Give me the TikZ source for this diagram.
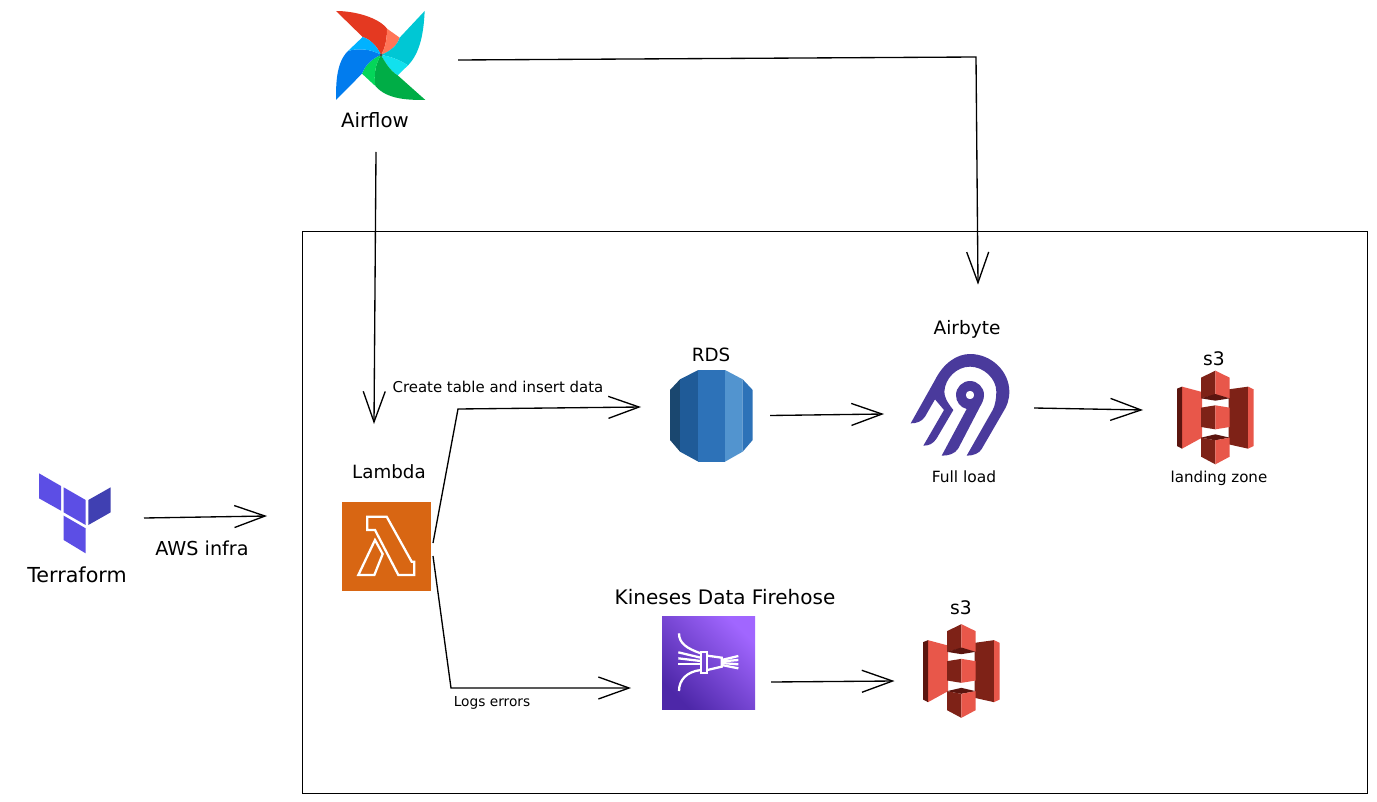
\documentclass[tikz,border=0pt]{standalone}
\usepackage{fontspec}
\setmainfont{DejaVu Sans}
\usetikzlibrary{arrows.meta}
\definecolor{sthree}{HTML}{E8574A}
\definecolor{sthreed}{HTML}{7E2217}
\definecolor{sthreex}{HTML}{5B150F}
\definecolor{lambdaorange}{HTML}{D86613}
\definecolor{fireA}{HTML}{4D27A8}
\definecolor{fireC}{HTML}{A166FF}
\definecolor{tfp}{HTML}{5C4EE5}
\definecolor{tfd}{HTML}{4040B2}
\definecolor{abyte}{HTML}{4A3A9C}
\definecolor{afred}{HTML}{E43921}
\definecolor{aforange}{HTML}{FF7557}
\definecolor{afteal}{HTML}{00C7D4}
\definecolor{afcyan}{HTML}{11E1EE}
\definecolor{afgreen}{HTML}{00AD46}
\definecolor{aflime}{HTML}{04D659}
\definecolor{afblue}{HTML}{017CEE}
\definecolor{afsky}{HTML}{00B2FF}
\definecolor{afdot}{HTML}{4A4A4A}
\definecolor{rdsa}{HTML}{1A476F}
\definecolor{rdsb}{HTML}{1F5B98}
\definecolor{rdsc}{HTML}{2D72B8}
\definecolor{rdsd}{HTML}{5294CF}
\newcommand{\drawsthree}{%
    \fill[sthree] (30,62)--(90,78)--(90,215)--(30,248)--cycle;
    \fill[sthreex] (15,68)--(30,62)--(30,248)--(15,240)--cycle;
    \fill[sthreed] (170,70)--(228,62)--(228,248)--(170,235)--cycle;
    \fill[sthree] (228,62)--(245,70)--(245,240)--(228,248)--cycle;
    \fill[sthreed] (87,35)--(130,14)--(130,86)--(87,97)--cycle;
    \fill[sthree] (130,14)--(173,35)--(173,97)--(130,86)--cycle;
    \fill[sthreex] (87,97)--(130,84)--(173,97)--(130,104)--cycle;
    \fill[sthreed] (87,125)--(130,118)--(130,190)--(87,183)--cycle;
    \fill[sthree] (130,118)--(173,125)--(173,183)--(130,190)--cycle;
    \fill[sthreex] (87,215)--(130,205)--(173,215)--(130,223)--cycle;
    \fill[sthreed] (87,215)--(130,223)--(130,295)--(87,272)--cycle;
    \fill[sthree] (130,223)--(173,215)--(173,272)--(130,295)--cycle;
}
\tikzset{
  conn/.style={draw=black,line width=1pt,-{Straight Barb[length=23pt,width=16.5pt,line width=1pt]}},
  ghost/.style={inner sep=0pt,outer sep=0pt,draw=none},
  iconz/.style={x=0.25pt,y=-0.25pt},
  labelbase/.style={inner sep=0pt},
  whiteline/.style={draw=white,line width=1.7pt,line join=miter}
}
\newcommand{\fsz}[1]{\fontsize{#1pt}{#1pt}\selectfont}
\begin{document}
\begin{tikzpicture}[x=0.75pt,y=-0.75pt]
\useasboundingbox (0,0) rectangle (1377,802);
\fill[white] (0,0) rectangle (1377,802);
% container
\node[draw=black,line width=0.75pt,inner sep=0pt,outer sep=0pt,minimum width=798.75pt,minimum height=420.75pt] (awsbox) at (834.5,512.5) {};

% anchor regions
\node[ghost,minimum width=126pt,minimum height=106.5pt] (airflow) at (374,81) {};
\node[ghost,minimum width=62.25pt,minimum height=69pt] (rds) at (711.5,415.5) {};
\node[ghost,minimum width=75pt,minimum height=77pt] (airbyte) at (960,404.5) {};
\node[ghost,minimum width=57.75pt,minimum height=70pt] (sthreetop) at (1215.5,416.5) {};
\node[ghost,minimum width=58.5pt,minimum height=70pt] (sthreebot) at (961.5,670) {};
\node[ghost,minimum width=54pt,minimum height=60pt] (terraform) at (75,513) {};
\coordinate (infra) at (267,516);

% Lambda
\node[fill=lambdaorange,inner sep=0pt,outer sep=0pt,minimum size=66.75pt] (lambda) at (386.5,546.5) {};
\begin{scope}[shift={(330,450)},iconz]
  \draw[whiteline] (112,200)--(170,200)--(245,335)--(253,335)--(253,375)--(205,375)--(135,240)--(112,240)--cycle;
  \draw[whiteline] (135,270)--(158,312)--(133,375)--(85,375)--cycle;
\end{scope}
% Firehose
\node[shade,shading=axis,left color=fireA,right color=fireC,shading angle=135,inner sep=0pt,outer sep=0pt,minimum size=69.75pt] (firehose) at (708.5,662.5) {};
\begin{scope}[shift={(650,605)},iconz]
  \draw[whiteline] (87,85) .. controls (87,115) and (110,130) .. (152,145);
  \draw[whiteline] (85,142)--(152,158);
  \draw[whiteline] (85,160)--(152,168);
  \draw[whiteline] (85,178)--(152,178);
  \draw[whiteline] (87,258) .. controls (87,225) and (110,200) .. (152,195);
  \draw[whiteline] (152,140) rectangle (172,205);
  \draw[whiteline] (172,152)--(215,158)--(215,185)--(172,195);
  \draw[whiteline] (215,165)--(265,153);
  \draw[whiteline] (215,169)--(265,165);
  \draw[whiteline] (215,174)--(265,178);
  \draw[whiteline] (215,180)--(265,190);
\end{scope}

% Airflow logo
\begin{scope}[shift={(332,6)},iconz]
  \fill[afred] (12,15) .. controls (70,15) and (140,35) .. (165,68) .. controls (165,100) and (160,125) .. (147,147) .. controls (135,120) and (115,100) .. (92,93) -- cycle;
  \fill[aforange] (165,68) -- (203,95) .. controls (195,120) and (175,135) .. (147,147) .. controls (160,125) and (165,100) .. (165,68) -- cycle;
  \fill[afteal] (278,15) .. controls (275,80) and (265,140) .. (228,178) .. controls (200,160) and (170,150) .. (147,147) .. controls (175,135) and (195,120) .. (203,95) -- cycle;
  \fill[afcyan] (147,147) .. controls (170,150) and (200,160) .. (228,178) -- (197,208) .. controls (175,195) and (160,170) .. (147,147) -- cycle;
  \fill[afgreen] (147,147) .. controls (160,170) and (175,195) .. (197,208) -- (280,282) .. controls (225,282) and (165,280) .. (130,240) .. controls (125,205) and (130,175) .. (147,147) -- cycle;
  \fill[aflime] (147,147) .. controls (130,175) and (125,205) .. (130,240) -- (90,203) .. controls (100,175) and (125,155) .. (147,147) -- cycle;
  \fill[afblue] (147,147) .. controls (125,155) and (100,175) .. (90,203) -- (12,282) .. controls (12,235) and (12,170) .. (48,135) .. controls (80,125) and (120,130) .. (147,147) -- cycle;
  \fill[afsky] (92,93) .. controls (115,100) and (135,120) .. (147,147) .. controls (120,130) and (80,125) .. (48,135) -- cycle;
  \fill[afdot] (147,147) circle [radius=5];
\end{scope}

% RDS logo
\begin{scope}[shift={(650,340)},iconz]
  \fill[rdsa] (90,118)--(60,150)--(60,300)--(90,335)--cycle;
  \fill[rdsb] (90,118)--(145,90)--(145,365)--(90,335)--cycle;
  \fill[rdsc] (145,90)--(225,90)--(225,365)--(145,365)--cycle;
  \fill[rdsd] (225,90)--(278,118)--(278,335)--(225,365)--cycle;
  \fill[rdsc] (278,118)--(308,150)--(308,300)--(278,335)--cycle;
\end{scope}

% Airbyte logo
\begin{scope}[shift={(890,310)},iconz]
  \fill[abyte] (62,340) -- (135,210) .. controls (160,160) and (200,132) .. (240,132) .. controls (305,132) and (358,185) .. (358,245) .. controls (358,270) and (350,290) .. (340,305) -- (275,417) .. controls (268,430) and (250,437) .. (230,437) -- (308,300) .. controls (315,288) and (319,265) .. (319,245) .. controls (319,205) and (280,170) .. (240,170) .. controls (200,170) and (165,205) .. (163,245) .. controls (163,260) and (170,275) .. (190,300) -- (140,385) .. controls (130,402) and (115,407) .. (100,407) -- (162,300) -- (135,268) -- (105,320) .. controls (95,335) and (80,340) .. (62,340) -- cycle;
  \fill[abyte,even odd rule] (155,437) -- (230,297) .. controls (210,292) and (198,275) .. (198,255) .. controls (198,232) and (217,213) .. (240,213) .. controls (263,213) and (282,232) .. (282,255) .. controls (282,268) and (276,280) .. (270,290) -- (205,415) .. controls (195,432) and (175,437) .. (155,437) -- cycle (240,255) circle [radius=13];
\end{scope}

% S3 logos
\begin{scope}[shift={(1172,366)},iconz]\drawsthree\end{scope}
\begin{scope}[shift={(918,619.5)},iconz]\drawsthree\end{scope}

% Terraform logo
\begin{scope}[shift={(20,460)},iconz]
  \fill[tfp] (57,40)--(123,78)--(123,152)--(57,115)--cycle;
  \fill[tfp] (131,82)--(197,120)--(197,195)--(131,157)--cycle;
  \fill[tfp] (131,167)--(197,205)--(197,280)--(131,240)--cycle;
  \fill[tfd] (205,120)--(272,82)--(272,157)--(205,195)--cycle;
\end{scope}

% labels
\node[labelbase,font=\fsz{14.8}] (lblairflow) at (375,120) {Airflow};
\node[labelbase,font=\fsz{15.5}] (lblterra) at (77,575) {Terraform};
\node[labelbase,font=\fsz{14.4}] (lblaws) at (202,548) {AWS infra};
\node[labelbase,font=\fsz{13.7}] (lbllambda) at (389,472) {Lambda};
\node[labelbase,font=\fsz{13.7}] (lblrds) at (711,355) {RDS};
\node[labelbase,font=\fsz{13.9}] (lblairbyte) at (967,329) {Airbyte};
\node[labelbase,font=\fsz{11.6}] (lblfull) at (964,477) {Full load};
\node[labelbase,font=\fsz{14}] (lbls3a) at (1214,359) {s3};
\node[labelbase,font=\fsz{11.3}] (lblland) at (1219,478) {landing zone};
\node[labelbase,font=\fsz{15}] (lblkin) at (725,597) {Kineses Data Firehose};
\node[labelbase,font=\fsz{14}] (lbls3b) at (961,608) {s3};
\node[labelbase,font=\fsz{11.2}] (lblcreate) at (498,387) {Create table and insert data};
\node[labelbase,font=\fsz{10.3}] (lbllogs) at (492,703) {Logs errors};

% connectors
\coordinate (bendup) at (458,409);
\coordinate (benddown) at (451,688);
\coordinate (bendair) at (976,57);
\draw[conn] ([shift={(2,0)}]airflow.south) -- ([shift={(-12.5,-78)}]lambda.north);
\draw[conn] ([shift={(0,-21)}]airflow.east) -- (bendair) -- ([shift={(18,-68.5)}]airbyte.north);
\draw[conn] ([shift={(2,-3.5)}]lambda.east) -- (bendup) -- ([shift={(-29,-8.5)}]rds.west);
\draw[conn] ([shift={(2,9.5)}]lambda.east) -- (benddown) -- ([shift={(-31,25.5)}]firehose.west);
\draw[conn] ([shift={(17,0)}]rds.east) -- ([shift={(-26,9.5)}]airbyte.west);
\draw[conn] ([shift={(24,3.5)}]airbyte.east) -- ([shift={(-34,-6.5)}]sthreetop.west);
\draw[conn] ([shift={(16,19.5)}]firehose.east) -- ([shift={(-28,11)}]sthreebot.west);
\draw[conn] ([shift={(33,5)}]terraform.east) -- (infra);
\end{tikzpicture}
\end{document}
